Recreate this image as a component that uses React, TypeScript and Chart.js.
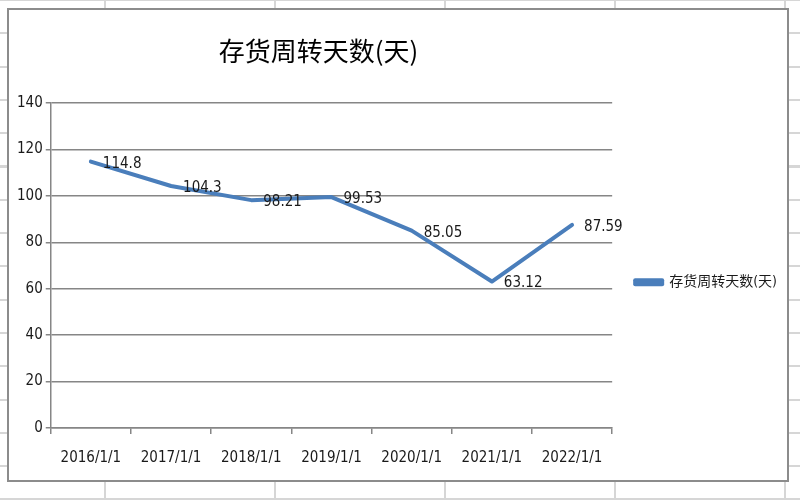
import React, { useEffect, useRef } from 'react';
import { Chart, registerables } from 'chart.js';

Chart.register(...registerables);

const categories = ['2016/1/1', '2017/1/1', '2018/1/1', '2019/1/1', '2020/1/1', '2021/1/1', '2022/1/1'];
const turnoverDays = [114.8, 104.3, 98.21, 99.53, 85.05, 63.12, 87.59];
const dayLabels = ['114.8', '104.3', '98.21', '99.53', '85.05', '63.12', '87.59'];
const seriesName = '存货周转天数(天)';

const FONT = "'Liberation Sans Narrow', 'DejaVu Sans Condensed', 'Noto Sans CJK SC', sans-serif";
const CJK = "'Noto Sans CJK SC', sans-serif";

// value labels to the right of each point, like Excel's "right" position
const valueLabels = {
  id: 'valueLabels',
  afterDatasetsDraw(chart: Chart) {
    const ctx = chart.ctx;
    const meta = chart.getDatasetMeta(0);
    ctx.save();
    ctx.font = `15px ${FONT}`;
    ctx.fillStyle = '#1a1a1a';
    ctx.textAlign = 'left';
    ctx.textBaseline = 'middle';
    meta.data.forEach((pt: any, i: number) => {
      ctx.fillText(dayLabels[i], pt.x + 12, pt.y + 2);
    });
    ctx.restore();
  },
};

const InventoryChart: React.FC = () => {
  const chartRef = useRef<HTMLCanvasElement>(null);
  const chartInstance = useRef<Chart | null>(null);

  useEffect(() => {
    if (!chartRef.current) return;
    if (chartInstance.current) chartInstance.current.destroy();
    const ctx = chartRef.current.getContext('2d');
    if (!ctx) return;
    chartInstance.current = new Chart(ctx, {
      type: 'line',
      data: {
        labels: categories,
        datasets: [
          {
            label: seriesName,
            data: turnoverDays,
            borderColor: '#4a7ebb',
            backgroundColor: '#4a7ebb',
            borderWidth: 4,
            pointRadius: 0,
            tension: 0,
            borderJoinStyle: 'round',
            borderCapStyle: 'round',
          },
        ],
      },
      options: {
        responsive: true,
        maintainAspectRatio: false,
        animation: false,
        layout: { padding: { top: 10, left: 5, right: 0, bottom: -2 } },
        scales: {
          x: {
            offset: true,
            grid: { display: true, drawOnChartArea: false, offset: true, tickLength: 6, color: '#868686', lineWidth: 1.5 },
            border: { color: '#868686', width: 1.5 },
            ticks: { color: '#1a1a1a', font: { family: FONT, size: 15 }, padding: 15, maxRotation: 0 },
          },
          y: {
            min: 0,
            max: 140,
            ticks: { stepSize: 20, color: '#1a1a1a', font: { family: FONT, size: 15 }, padding: 3 },
            grid: { color: '#868686', lineWidth: 1.5, tickLength: 5 },
            border: { color: '#868686', width: 1.5 },
          },
        },
        plugins: {
          title: {
            display: true,
            // trailing ideographic space nudges the title left, as in the source
            text: seriesName + '\u3000',
            fullSize: false,
            color: '#000',
            font: { family: CJK, size: 26, weight: 'normal' },
            padding: { top: 16, bottom: 36 },
          },
          legend: {
            position: 'right',
            align: 'center',
            title: { display: true, text: ' ', padding: { top: 24, bottom: 24 }, font: { size: 12 } },
            labels: {
              boxWidth: 27,
              boxHeight: 4,
              padding: 23,
              color: '#1a1a1a',
              font: { family: FONT, size: 14 },
            },
          },
          tooltip: { enabled: false },
        },
      },
      plugins: [valueLabels],
    });
    return () => {
      if (chartInstance.current) {
        chartInstance.current.destroy();
        chartInstance.current = null;
      }
    };
  }, []);

  return <canvas ref={chartRef} />;
};

const App: React.FC = () => {
  return (
    <div
      style={{
        position: 'fixed',
        left: 0,
        top: 0,
        width: 800,
        height: 500,
        background: '#fff',
        backgroundImage:
          'repeating-linear-gradient(to right, transparent 0px, transparent 104px, #d6d6d6 104px, #d6d6d6 106px, transparent 106px, transparent 170px),' +
          'repeating-linear-gradient(to bottom, #d6d6d6 0px, #d6d6d6 2px, transparent 2px, transparent 33.3px)',
        backgroundPosition: '0 0, 0 -1px',
        overflow: 'hidden',
      }}
    >
      <div
        style={{
          position: 'absolute',
          left: 7,
          top: 8,
          width: 782,
          height: 474,
          boxSizing: 'border-box',
          border: '2px solid #8c8c8c',
          background: '#fff',
        }}
      >
        <div style={{ position: 'relative', width: '100%', height: '100%' }}>
          <InventoryChart />
        </div>
      </div>
    </div>
  );
};

export default App;
